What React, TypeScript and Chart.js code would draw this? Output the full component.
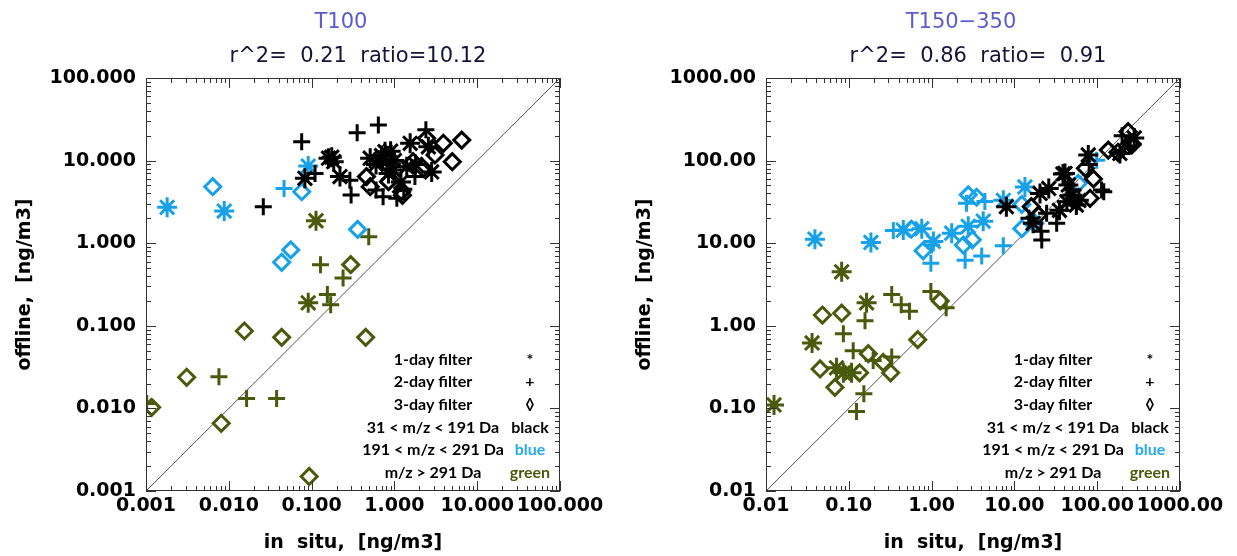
import React, { useEffect, useRef } from 'react';
import { Chart, registerables } from 'chart.js';

Chart.register(...registerables);

type P = [number, number];

const BLACK = '#000000';
const BLUE = '#17a1e8';
const GREEN = '#4a5a0c';

// ---------- Panel 1: T100 ----------
const t100Title = 'T100';
const t100Stats = 'r^2=  0.21  ratio=10.12';
const t100Decades = [0.001, 0.01, 0.1, 1, 10, 100];

const t100BlackStar: P[] = [
  [0.083, 6.1], [0.16, 10.7], [0.185, 9.7], [0.175, 11], [0.22, 6.4], [0.51, 10.7], [0.6, 9.0],
  [0.7, 11.5], [0.77, 12.8], [0.81, 9.7], [0.9, 13], [1.0, 10], [0.85, 7], [0.97, 7.7],
  [1.2, 5.5], [1.41, 8.4], [1.8, 9], [1.55, 16.2], [2.82, 7.3], [2.57, 14.7],
];
const t100BlackPlus: P[] = [
  [0.0261, 2.77], [0.0759, 16.9], [0.355, 21.8], [0.64, 27], [0.11, 7.0], [0.30, 3.84],
  [0.29, 5.8], [0.6, 4.4], [0.73, 3.66], [1.07, 3.5], [1.3, 4.5], [1.77, 6.4], [2.4, 23.6],
];
const t100BlackDiamond: P[] = [
  [0.46, 6.4], [0.51, 4.83], [0.85, 5.56], [1.22, 4.2], [1.25, 3.8], [1.68, 9.7], [2.23, 8.07],
  [2.45, 18.6], [3.09, 11.7], [3.9, 16.2], [6.5, 17.7], [5.0, 9.7],
];
const t100BlueStar: P[] = [[0.0018, 2.72], [0.0088, 2.45], [0.091, 8.6]];
const t100BluePlus: P[] = [[0.0465, 4.61]];
const t100BlueDiamond: P[] = [
  [0.0064, 4.83], [0.076, 4.2], [0.36, 1.47], [0.056, 0.83], [0.0435, 0.587],
];
const t100GreenStar: P[] = [[0.113, 1.87], [0.091, 0.19]];
const t100GreenPlus: P[] = [
  [0.49, 1.2], [0.128, 0.55], [0.155, 0.24], [0.17, 0.18], [0.24, 0.38], [0.0076, 0.0242],
  [0.0164, 0.0132], [0.0378, 0.0132], [0.00102, 0.0115],
];
const t100GreenDiamond: P[] = [
  [0.297, 0.55], [0.0154, 0.0865], [0.0435, 0.0725], [0.45, 0.0725], [0.0031, 0.0238],
  [0.0081, 0.0066], [0.00117, 0.0103], [0.0935, 0.0015],
];

// ---------- Panel 2: T150-350 ----------
const t150Title = 'T150\u2212350';
const t150Stats = 'r^2=  0.86  ratio=  0.91';
const t150Decades = [0.01, 0.1, 1, 10, 100, 1000];

const t150BlackStar: P[] = [
  [78, 117], [40.8, 70], [44.8, 50.7], [43, 31.8], [56, 29], [188, 122], [20.4, 40], [16.8, 17.4],
  [8, 27.7], [26, 46], [38.6, 69], [280, 188], [35, 25], [50, 38], [60, 33],
];
const t150BlackPlus: P[] = [
  [113, 44], [21.4, 10.9], [24.5, 23], [32.4, 17.4], [51, 44], [120, 42], [21, 14], [80, 90],
  [250, 150], [15, 20], [200, 200],
];
const t150BlackDiamond: P[] = [
  [82, 35], [72, 80.7], [136, 134], [249, 162], [236, 224], [16, 27.7], [19.5, 21.9], [262, 155],
  [178, 126], [90, 60],
];
const t150BlueStar: P[] = [
  [0.039, 11.2], [0.185, 10.2], [0.455, 14.4], [0.76, 15], [1.05, 10.5], [1.75, 13.2],
  [2.77, 16], [4.2, 18.5], [7.35, 33], [13.4, 48],
];
const t150BluePlus: P[] = [
  [0.345, 14.2], [0.98, 5.7], [2.54, 6.2], [4.03, 7.0], [7.35, 9.3], [2.64, 30.5], [4.4, 32],
  [98.6, 101], [1.0, 9.5],
];
const t150BlueDiamond: P[] = [
  [0.57, 14.8], [0.79, 8.1], [2.42, 9.5], [3.1, 11], [2.77, 38.5], [3.5, 36], [12.3, 29.5],
  [12.3, 15], [17.7, 17.5], [59, 53],
];
const t150GreenStar: P[] = [
  [0.0125, 0.11], [0.082, 4.5], [0.036, 0.62], [0.164, 1.9], [0.071, 0.31], [0.086, 0.27],
  [0.108, 0.27],
];
const t150GreenPlus: P[] = [
  [0.157, 1.15], [0.086, 0.8], [0.33, 2.4], [0.43, 1.8], [0.54, 1.5], [0.98, 2.6], [1.5, 1.65],
  [0.113, 0.5], [0.197, 0.38], [0.33, 0.42], [0.152, 0.15], [0.124, 0.092],
];
const t150GreenDiamond: P[] = [
  [0.048, 1.35], [0.082, 1.42], [1.27, 2.0], [0.68, 0.68], [0.045, 0.3], [0.135, 0.27],
  [0.068, 0.18], [0.172, 0.46], [0.26, 0.36], [0.32, 0.27],
];

// Legend annotation texts
const legendLabels = ['1-day filter', '2-day filter', '3-day filter', '31 < m/z < 191 Da', '191 < m/z < 291 Da', 'm/z > 291 Da'];
const legendKeys = ['*', '+', '\u25CA', 'black', 'blue', 'green'];
const legendKeyColors = [BLACK, BLACK, BLACK, BLACK, '#22aaf2', GREEN];

const xAxisTitle = 'in  situ,  [ng/m3]';
const yAxisTitle = 'offline,  [ng/m3]';

type Group = { pts: P[]; color: string; style: string };

function buildDatasets(groups: Group[], lo: number, hi: number) {
  const ds: any[] = [
    {
      data: [{ x: lo, y: lo }, { x: hi, y: hi }],
      showLine: true,
      borderColor: '#555555',
      borderWidth: 1,
      pointRadius: 0,
      order: 10,
    },
  ];
  groups.forEach((g) => {
    const radius = g.style === 'star' ? 10 : g.style === 'cross' ? 8.5 : 8;
    ds.push({
      data: g.pts.map(([x, y]) => ({ x, y })),
      pointStyle: g.style,
      pointRadius: radius,
      pointBorderWidth: 3,
      pointBorderColor: g.color,
      pointBackgroundColor: 'rgba(0,0,0,0)',
      borderColor: g.color,
      backgroundColor: 'rgba(0,0,0,0)',
      showLine: false,
      order: 1,
    });
  });
  return ds;
}

type PanelCfg = {
  title: string;
  stats: string;
  decades: number[];
  decimals: number;
  groups: Group[];
  yAxisWidth: number;
  rightPad: number;
};

function makePlugin(p: PanelCfg) {
  return {
    id: 'frameAndText',
    afterDraw(chart: any) {
      const { ctx, chartArea } = chart;
      const { left, right, top, bottom } = chartArea;
      const xs = chart.scales.x;
      const ys = chart.scales.y;
      ctx.save();
      ctx.strokeStyle = '#333333';
      ctx.lineWidth = 1;
      ctx.strokeRect(Math.round(left) + 0.5, Math.round(top) + 0.5, Math.round(right - left) - 1, Math.round(bottom - top) - 1);
      const lo = p.decades[0];
      const hi = p.decades[p.decades.length - 1];
      ctx.beginPath();
      p.decades.forEach((d) => {
        for (let m = 1; m <= 9; m++) {
          const v = d * m;
          if (v > hi * 1.0001 || v < lo * 0.9999) continue;
          const len = m === 1 ? 10 : 5;
          const px = Math.round(xs.getPixelForValue(v)) + 0.5;
          ctx.moveTo(px, bottom);
          ctx.lineTo(px, bottom - len);
          ctx.moveTo(px, top);
          ctx.lineTo(px, top + len);
          const py = Math.round(ys.getPixelForValue(v)) + 0.5;
          ctx.moveTo(left, py);
          ctx.lineTo(left + len, py);
          ctx.moveTo(right, py);
          ctx.lineTo(right - len, py);
        }
      });
      ctx.stroke();

      const cx = (left + right) / 2;
      ctx.textAlign = 'center';
      ctx.textBaseline = 'middle';
      // titles
      ctx.fillStyle = '#5b5bd0';
      ctx.font = '21px "DejaVu Sans"';
      ctx.fillText(p.title, cx - 12, 23);
      ctx.fillStyle = '#141438';
      ctx.fillText(p.stats, cx + 5, 57);
      // axis titles
      ctx.fillStyle = '#000000';
      ctx.font = 'bold 19px "DejaVu Sans"';
      ctx.fillText(xAxisTitle, cx, 543);
      ctx.save();
      ctx.translate(left - 121, (top + bottom) / 2);
      ctx.rotate(-Math.PI / 2);
      ctx.fillText(yAxisTitle, 0, 0);
      ctx.restore();
      // legend annotation
      ctx.font = 'bold 16px Lato';
      legendLabels.forEach((t, i) => {
        const y = 359.5 + i * 22.7;
        ctx.fillStyle = '#000000';
        ctx.fillText(t, left + 287, y);
        ctx.fillStyle = legendKeyColors[i];
        ctx.fillText(legendKeys[i], left + 384, y);
      });
      ctx.restore();
    },
  };
}

function Panel({ cfg, width }: { cfg: PanelCfg; width: number }) {
  const ref = useRef<HTMLCanvasElement | null>(null);
  useEffect(() => {
    if (!ref.current) return;
    const lo = cfg.decades[0];
    const hi = cfg.decades[cfg.decades.length - 1];
    const tickFont = { family: '"DejaVu Sans"', weight: 'bold' as const, size: 19 };
    const fmt = (v: any) => Number(v).toFixed(cfg.decimals);
    const chart = new Chart(ref.current, {
      type: 'scatter',
      data: { datasets: buildDatasets(cfg.groups, lo, hi) },
      options: {
        responsive: false,
        animation: false,
        devicePixelRatio: 1,
        events: [],
        layout: { padding: { left: 0, right: cfg.rightPad, top: 78, bottom: 0 } },
        plugins: { legend: { display: false }, tooltip: { enabled: false }, title: { display: false } },
        scales: {
          x: {
            type: 'logarithmic',
            position: 'bottom',
            min: lo,
            max: hi,
            grid: { display: false, drawTicks: false },
            border: { display: false },
            ticks: {
              autoSkip: false,
              maxRotation: 0,
              minRotation: 0,
              padding: 4,
              color: '#000000',
              font: tickFont,
              callback: fmt,
            },
            afterBuildTicks: (s: any) => {
              s.ticks = cfg.decades.map((v) => ({ value: v }));
            },
            afterFit: (s: any) => {
              s.height = 65;
            },
          },
          y: {
            type: 'logarithmic',
            position: 'left',
            min: lo,
            max: hi,
            grid: { display: false, drawTicks: false },
            border: { display: false },
            ticks: {
              autoSkip: false,
              padding: 10,
              color: '#000000',
              font: tickFont,
              callback: fmt,
            },
            afterBuildTicks: (s: any) => {
              s.ticks = cfg.decades.map((v) => ({ value: v }));
            },
            afterFit: (s: any) => {
              s.width = cfg.yAxisWidth;
            },
          },
        },
      } as any,
      plugins: [makePlugin(cfg)],
    });
    return () => chart.destroy();
  }, [cfg, width]);
  return <canvas ref={ref} width={width} height={556} style={{ width, height: 556, display: 'block' }} />;
}

const panel1: PanelCfg = {
  title: t100Title,
  stats: t100Stats,
  decades: t100Decades,
  decimals: 3,
  yAxisWidth: 146,
  rightPad: 58,
  groups: [
    { pts: t100BlackStar, color: BLACK, style: 'star' },
    { pts: t100BlackPlus, color: BLACK, style: 'cross' },
    { pts: t100BlackDiamond, color: BLACK, style: 'rectRot' },
    { pts: t100BlueStar, color: BLUE, style: 'star' },
    { pts: t100BluePlus, color: BLUE, style: 'cross' },
    { pts: t100BlueDiamond, color: BLUE, style: 'rectRot' },
    { pts: t100GreenStar, color: GREEN, style: 'star' },
    { pts: t100GreenPlus, color: GREEN, style: 'cross' },
    { pts: t100GreenDiamond, color: GREEN, style: 'rectRot' },
  ],
};

const panel2: PanelCfg = {
  title: t150Title,
  stats: t150Stats,
  decades: t150Decades,
  decimals: 2,
  yAxisWidth: 148,
  rightPad: 57,
  groups: [
    { pts: t150BlackStar, color: BLACK, style: 'star' },
    { pts: t150BlackPlus, color: BLACK, style: 'cross' },
    { pts: t150BlackDiamond, color: BLACK, style: 'rectRot' },
    { pts: t150BlueStar, color: BLUE, style: 'star' },
    { pts: t150BluePlus, color: BLUE, style: 'cross' },
    { pts: t150BlueDiamond, color: BLUE, style: 'rectRot' },
    { pts: t150GreenStar, color: GREEN, style: 'star' },
    { pts: t150GreenPlus, color: GREEN, style: 'cross' },
    { pts: t150GreenDiamond, color: GREEN, style: 'rectRot' },
  ],
};

export default function App() {
  return (
    <div style={{ position: 'fixed', left: 0, top: 0, width: 1237, height: 556, background: '#ffffff' }}>
      <div style={{ position: 'absolute', left: 0, top: 0 }}>
        <Panel cfg={panel1} width={618} />
      </div>
      <div style={{ position: 'absolute', left: 618, top: 0 }}>
        <Panel cfg={panel2} width={619} />
      </div>
    </div>
  );
}
